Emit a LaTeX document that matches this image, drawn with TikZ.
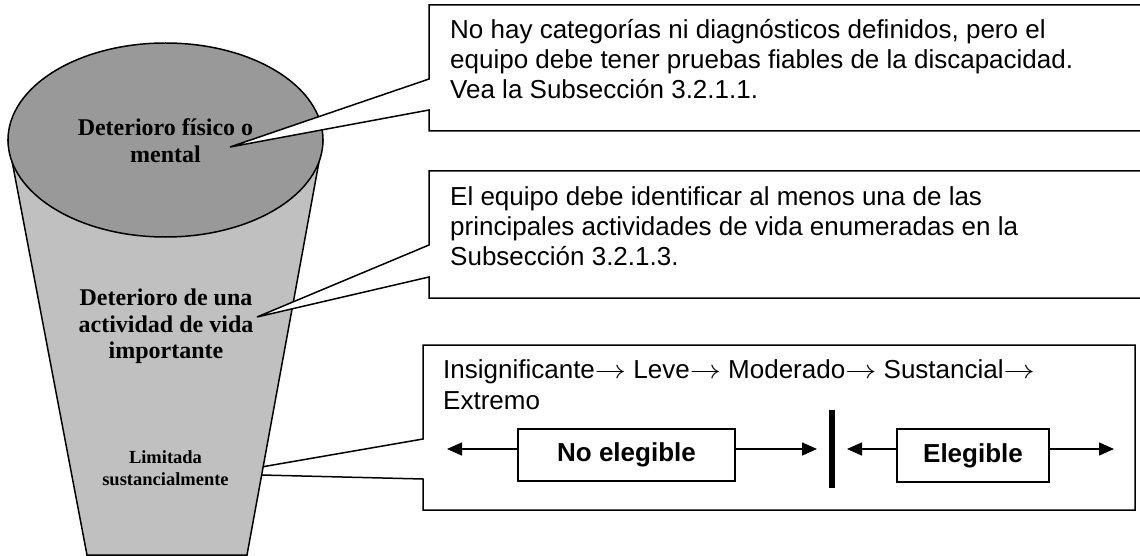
\RequirePackage{fix-cm}
\documentclass[tikz,border=0pt]{standalone}
\usepackage{fontspec}
\setmainfont{Liberation Serif}
\newfontfamily\arialf{Liberation Sans}
\usetikzlibrary{arrows.meta}
\definecolor{topgray}{RGB}{153,153,153}
\definecolor{bodygray}{RGB}{192,192,192}
\newcommand{\rar}{\scalebox{1.2}[1]{$\rightarrow$}}
\begin{document}
\begin{tikzpicture}[x=1pt,y=-1pt, line join=miter,
  callout/.style={draw=black, line width=1.5pt, fill=white},
  boxtext/.style={anchor=base west, inner sep=0pt, font=\arialf\fontsize{26}{30}\selectfont},
  funbig/.style={anchor=base, inner sep=0pt, font=\bfseries\fontsize{24}{27}\selectfont},
  funsmall/.style={anchor=base, inner sep=0pt, font=\bfseries\fontsize{18.5}{22}\selectfont},
  tag/.style={draw, line width=1.5pt, fill=white, inner sep=0pt, font=\arialf\bfseries\fontsize{26}{30}\selectfont},
  arr/.style={line width=1.5pt, -{Triangle[length=15pt,width=13pt]}}]
\clip (0,0) rectangle (1140,556);
% callout 3 (behind the funnel)
\coordinate (tip3) at (221,474);
\draw[callout] (423,345) -- (1135,345) -- (1135,510) -- (423,510) -- (423,479) -- (tip3) -- (423,439) -- cycle;
% funnel
\draw[line width=1.5pt, fill=bodygray] (8,140) -- (87,555) -- (247,555) -- (323,140) -- cycle;
\draw[line width=1.5pt, fill=topgray] (165.5,140) ellipse [x radius=157.5, y radius=97];
% callouts 1 and 2
\coordinate (tip1) at (230,147);
\coordinate (tip2) at (257,317);
\draw[callout] (429,5) -- (1150,5) -- (1150,131) -- (429,131) -- (429,110) -- (tip1) -- (429,79) -- cycle;
\draw[callout] (429,171) -- (1150,171) -- (1150,298) -- (429,298) -- (429,277) -- (tip2) -- (429,245) -- cycle;
% funnel texts
\node[funbig] (f1a) at (165.5,136) {Deterioro físico o};
\node[funbig] (f1b) at (165.5,163) {mental};
\node[funbig] (f2a) at (166,305) {Deterioro de una};
\node[funbig] (f2b) at (166,332) {actividad de vida};
\node[funbig] (f2c) at (166,358) {importante};
\node[funsmall] (f3a) at (165.5,463) {Limitada};
\node[funsmall] (f3b) at (165.5,485) {sustancialmente};
% callout texts
\node[boxtext] (c1a) at (450,39) {No hay categorías ni diagnósticos definidos, pero el};
\node[boxtext] (c1b) at (450,69) {equipo debe tener pruebas fiables de la discapacidad.};
\node[boxtext] (c1c) at (450,99) {Vea la Subsección 3.2.1.1.};
\node[boxtext] (c2a) at (450,205) {El equipo debe identificar al menos una de las};
\node[boxtext] (c2b) at (450,235) {principales actividades de vida enumeradas en la};
\node[boxtext] (c2c) at (450,265) {Subsección 3.2.1.3.};
\node[boxtext] (c3a) at (443,378) {Insignificante\rar{} Leve\rar{} Moderado\rar{} Sustancial\rar};
\node[boxtext] (c3b) at (443,409) {Extremo};
% scale
\node[tag, minimum width=217pt, minimum height=52pt] (ne) at (626.5,455) {No elegible};
\node[tag, minimum width=152pt, minimum height=53pt] (el) at (973,455.5) {Elegible};
\coordinate (a1) at (447,449);
\coordinate (a2) at (817,449);
\coordinate (a3) at (847,449);
\coordinate (a4) at (1114,449);
\coordinate (bartop) at (832,410);
\coordinate (barbot) at (832,488);
\draw[arr] (ne.west |- a1) -- (a1);
\draw[arr] (ne.east |- a2) -- (a2);
\draw[arr] (el.west |- a3) -- (a3);
\draw[arr] (el.east |- a4) -- (a4);
\draw[line width=6.5pt] (bartop) -- (barbot);
\end{tikzpicture}
\end{document}
